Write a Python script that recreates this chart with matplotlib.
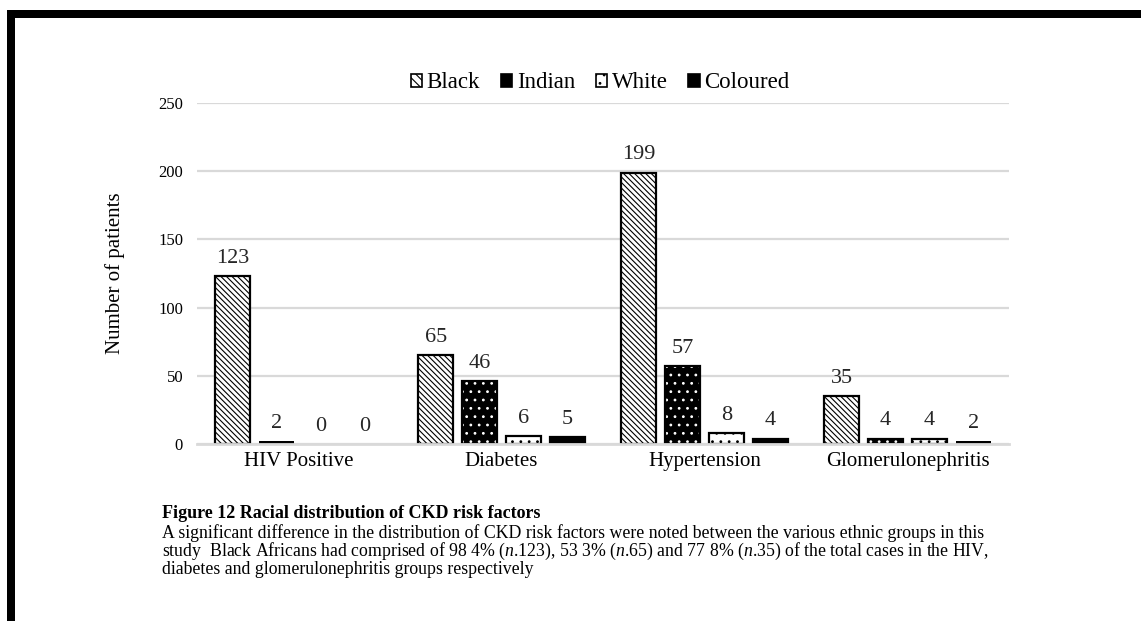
import matplotlib.pyplot as plt
from matplotlib.patches import Patch, Rectangle
import numpy as np

plt.rcParams['font.family'] = ['Liberation Serif', 'DejaVu Serif']
plt.rcParams['mathtext.fontset'] = 'custom'
plt.rcParams['mathtext.rm'] = 'Liberation Serif'
plt.rcParams['mathtext.it'] = 'Liberation Serif:italic'
plt.rcParams['hatch.linewidth'] = 0.8

categories = ['HIV Positive', 'Diabetes', 'Hypertension', 'Glomerulonephritis']
groups = ['Black', 'Indian', 'White', 'Coloured']
black = [123, 65, 199, 35]
indian = [2, 46, 57, 4]
white = [0, 6, 8, 4]
coloured = [0, 5, 4, 2]
series = [black, indian, white, coloured]

W, H = 1141, 621
fig = plt.figure(figsize=(W / 100, H / 100), dpi=100)
ax = fig.add_axes([197 / W, 1 - 444 / H, 812 / W, 341 / H])

x = np.arange(len(categories))
step = 0.216
width = 0.172
lab_col = '#262626'

for i, vals in enumerate(series):
    pos = x + (i - 1.5) * step
    lw = [1.6 if v > 2 else 0 for v in vals]
    if i == 0:
        ax.bar(pos, vals, width, facecolor='white', edgecolor='black',
               hatch='\\\\\\\\\\\\', linewidth=lw, zorder=3)
    elif i == 1:
        bars = ax.bar(pos, vals, width, facecolor='black', edgecolor='white',
                      hatch='..', linewidth=0, zorder=3)
        for b, v in zip(bars, vals):
            if v <= 2:
                b.set_hatch(None)
        ax.bar(pos, vals, width, fill=False, edgecolor='black',
               linewidth=lw, zorder=4)
    elif i == 2:
        ax.bar(pos, vals, width, facecolor='white', edgecolor='black',
               hatch='..', linewidth=lw, zorder=3)
    else:
        ax.bar(pos, vals, width, facecolor='black', edgecolor='black',
               linewidth=lw, zorder=3)
    for px, v in zip(pos, vals):
        ax.text(px, v + 6, str(v), ha='center', va='bottom', fontsize=16,
                color=lab_col)

ax.set_xlim(-0.5, 3.5)
ax.set_ylim(0, 250)
ax.set_yticks([0, 50, 100, 150, 200, 250])
ax.yaxis.grid(True, color='#d9d9d9', linewidth=1.6, zorder=0)
ax.set_axisbelow(True)
for s in ['top', 'right', 'left']:
    ax.spines[s].set_visible(False)
ax.spines['bottom'].set_color('#d9d9d9')
ax.spines['bottom'].set_linewidth(2)
ax.spines['bottom'].set_zorder(5)
ax.tick_params(axis='y', length=0, labelsize=12, pad=10)
ax.tick_params(axis='x', length=0, labelsize=15, pad=6)
ax.set_xticks(x)
ax.set_xticklabels(categories)
ax.set_ylabel('Number of patients', fontsize=15, labelpad=24)

handles = [
    Patch(facecolor='white', edgecolor='black', hatch='\\\\\\\\', linewidth=1.2),
    Patch(facecolor='black', edgecolor='black', linewidth=1.2),
    Patch(facecolor='white', edgecolor='black', hatch='..', linewidth=1.2),
    Patch(facecolor='black', edgecolor='black', linewidth=1.2),
]
fig.legend(handles, groups, loc='center', bbox_to_anchor=(600 / W, 1 - 83 / H),
           ncol=4, frameon=False, fontsize=16.5, handlelength=0.5,
           handleheight=0.5, handletextpad=0.2, columnspacing=0.9)

# page border
fig.patches.append(Rectangle((7 / W, 0), 8 / W, 1 - 10 / H, transform=fig.transFigure,
                             facecolor='black', edgecolor='none'))
fig.patches.append(Rectangle((7 / W, 1 - 18 / H), 1, 8 / H, transform=fig.transFigure,
                             facecolor='black', edgecolor='none'))

fig.text(162 / W, 1 - 514 / H, 'Figure 12 Racial distribution of CKD risk factors',
         fontsize=13, fontweight='bold', va='center', ha='left')
caption = ['A significant difference in the distribution of CKD risk factors were noted between the various ethnic groups in this',
           'study  Black Africans had comprised of 98 4% ($\\it{n}$.123), 53 3% ($\\it{n}$.65) and 77 8% ($\\it{n}$.35) of the total cases in the HIV,',
           'diabetes and glomerulonephritis groups respectively']
for k, line in enumerate(caption):
    fig.text(162 / W, 1 - (533 + 18.5 * k) / H, line, fontsize=12.8,
             va='center', ha='left')

fig.savefig('out.png', dpi=100)
